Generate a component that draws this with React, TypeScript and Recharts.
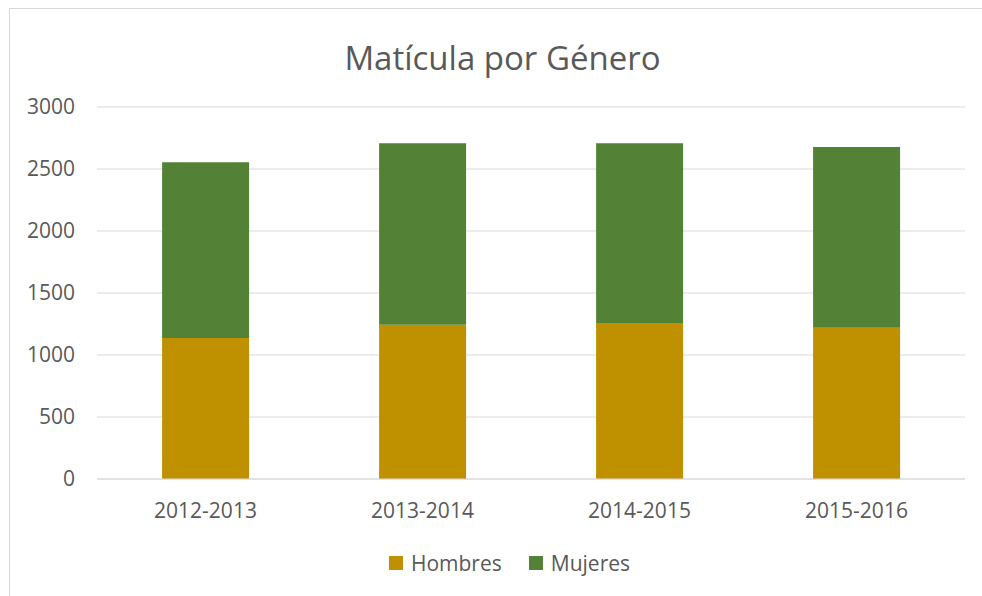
import { BarChart, Bar, XAxis, YAxis, CartesianGrid, Legend } from 'recharts';

const years = ['2012-2013', '2013-2014', '2014-2015', '2015-2016'];
const hombres = [1137, 1244, 1258, 1220];
const mujeres = [1417, 1463, 1449, 1457];
const yTicks = [0, 500, 1000, 1500, 2000, 2500, 3000];

const data = years.map((y, i) => ({ year: y, Hombres: hombres[i], Mujeres: mujeres[i] }));

const FONT = '"Open Sans", "Noto Sans", sans-serif';
const GREY = '#595959';

// legend drawn as plain squares + labels, like the Excel original
function LegendBox({ payload }: any) {
  return (
    <div style={{ height: 24, display: 'flex', justifyContent: 'center', alignItems: 'center', fontFamily: FONT, fontSize: 21, color: GREY }}>
      {(payload || []).map((p: any, i: number) => (
        <div key={p.value} style={{ display: 'flex', alignItems: 'center', marginLeft: i ? 27 : 0 }}>
          <span style={{ width: 14, height: 14, background: p.color, display: 'inline-block', marginRight: 8 }} />
          <span>{p.value}</span>
        </div>
      ))}
    </div>
  );
}

export default function App() {
  return (
    <div style={{ position: 'absolute', left: 0, top: 0, width: 982, height: 596, background: '#fff', fontFamily: FONT }}>
      <div
        style={{
          position: 'absolute', left: 9, top: 8, right: -2, bottom: -2,
          border: '1px solid #d9d9d9', boxSizing: 'border-box',
        }}
      />
      <div
        style={{
          position: 'absolute', left: 0, width: 1005, top: 35, textAlign: 'center',
          fontSize: 33, color: GREY, lineHeight: 'normal',
        }}
      >
        Matícula por Género
      </div>
      <BarChart
        width={982}
        height={596}
        data={data}
        margin={{ top: 107, right: 17, left: 0, bottom: 53 }}
        barCategoryGap="30%"
        style={{ position: 'absolute', left: 0, top: 0 }}
      >
        <CartesianGrid vertical={false} stroke="#d9d9d9" />
        <XAxis
          dataKey="year"
          tickLine={false}
          axisLine={{ stroke: '#d9d9d9' }}
          tick={{ fill: GREY, fontSize: 21, fontFamily: FONT }}
          tickMargin={18}
          height={40}
        />
        <YAxis
          domain={[0, 3000]}
          ticks={yTicks}
          width={97}
          tickLine={false}
          axisLine={false}
          tick={{ fill: GREY, fontSize: 21, fontFamily: FONT }}
          tickMargin={16}
        />
        <Legend verticalAlign="bottom" content={<LegendBox />} wrapperStyle={{ top: 551, left: 27 }} />
        <Bar dataKey="Hombres" stackId="a" fill="#bf9000" isAnimationActive={false} />
        <Bar dataKey="Mujeres" stackId="a" fill="#538135" isAnimationActive={false} />
      </BarChart>
    </div>
  );
}
